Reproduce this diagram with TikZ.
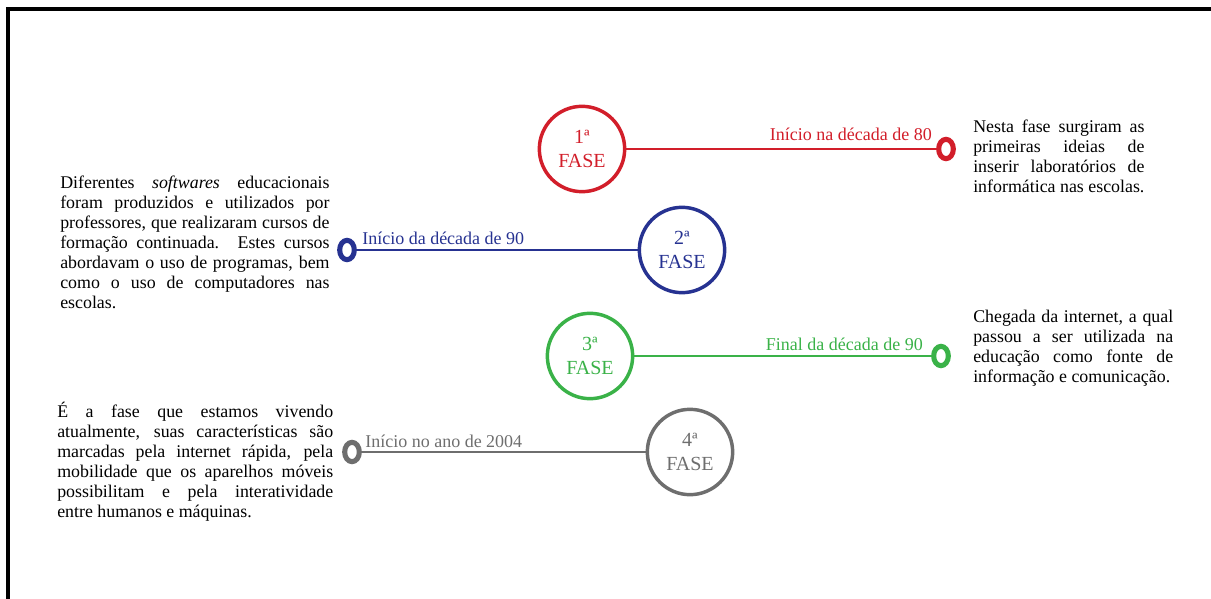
\documentclass[tikz,border=0pt]{standalone}
\usepackage{fontspec}
\setmainfont{Liberation Serif}
\usepackage{xcolor}
\usetikzlibrary{shapes.geometric}

\definecolor{faseRed}{RGB}{210,30,42}
\definecolor{faseBlue}{RGB}{38,50,145}
\definecolor{faseGreen}{RGB}{58,178,72}
\definecolor{faseGray}{RGB}{110,110,110}

\setlength{\parindent}{0pt}
\hyphenpenalty=10000

\begin{document}
\begin{tikzpicture}[
        x=0.75pt, y=-0.75pt,
        phase/.style={
            circle,
            draw,
            line width=2.6pt,
            minimum size=64pt,
            inner sep=0pt,
            align=center,
            font=\fontsize{15}{18.5}\selectfont
        },
        ring/.style={ellipse, draw, line width=3.8pt, minimum width=11pt, minimum height=14.5pt, inner sep=0pt},
        link/.style={line width=2pt},
        tag/.style={inner sep=0pt, font=\fontsize{13.5}{16}\selectfont},
        note/.style={
            inner sep=0pt,
            anchor=north west,
            align=justify,
            font=\fontsize{13.4}{15}\selectfont
        }
    ]
        \useasboundingbox (0,0) rectangle (1211,599);

        % frame
        \coordinate (frameBL) at (8,599);
        \coordinate (frameTR) at (1211,9);
        \draw[line width=2.4pt] (frameBL) |- (frameTR);

        % phases
        \node[phase, faseRed, text=faseRed] (fase1) at (582,149) {1ª\\FASE};
        \node[phase, faseBlue, text=faseBlue] (fase2) at (682,250) {2ª\\FASE};
        \node[phase, faseGreen, text=faseGreen] (fase3) at (590,356) {3ª\\FASE};
        \node[phase, faseGray, text=faseGray] (fase4) at (690,452) {4ª\\FASE};

        \node[ring, faseRed] (ring1) at (946,149) {};
        \node[ring, faseBlue] (ring2) at (347,250) {};
        \node[ring, faseGreen] (ring3) at (941,356) {};
        \node[ring, faseGray] (ring4) at (352,452) {};

        \draw[link, faseRed] (fase1) -- (ring1);
        \draw[link, faseBlue] (ring2) -- (fase2);
        \draw[link, faseGreen] (fase3) -- (ring3);
        \draw[link, faseGray] (ring4) -- (fase4);

        % dates
        \node[tag, text=faseRed, anchor=base east] (date1) at (932,141) {Início na década de 80};
        \node[tag, text=faseBlue, anchor=base west] (date2) at (362,245) {Início da década de 90};
        \node[tag, text=faseGreen, anchor=base east] (date3) at (923,350) {Final da década de 90};
        \node[tag, text=faseGray, anchor=base west] (date4) at (365,447) {Início no ano de 2004};

        % descriptions
        \node[note, text width=202pt] (desc2) at (60,176) {Diferentes \textit{softwares} educacionais\linebreak
            foram produzidos e utilizados por\linebreak
            professores, que realizaram cursos de\linebreak
            formação continuada. Estes cursos\linebreak
            abordavam o uso de programas, bem\linebreak
            como o uso de computadores nas\linebreak
            escolas.};
        \node[note, text width=207pt] (desc4) at (57,402) {É a fase que estamos vivendo\linebreak
            atualmente, suas características são\linebreak
            marcadas pela internet rápida, pela\linebreak
            mobilidade que os aparelhos móveis\linebreak
            possibilitam e pela interatividade\linebreak
            entre humanos e máquinas.};
        \node[note, text width=128.5pt] (desc1) at (973,120) {Nesta fase surgiram as\linebreak
            primeiras ideias de\linebreak
            inserir laboratórios de\linebreak
            informática nas escolas.};
        \node[note, text width=150pt] (desc3) at (973,310) {Chegada da internet, a qual\linebreak
            passou a ser utilizada na\linebreak
            educação como fonte de\linebreak
            informação e comunicação.};
    \end{tikzpicture}
\end{document}
